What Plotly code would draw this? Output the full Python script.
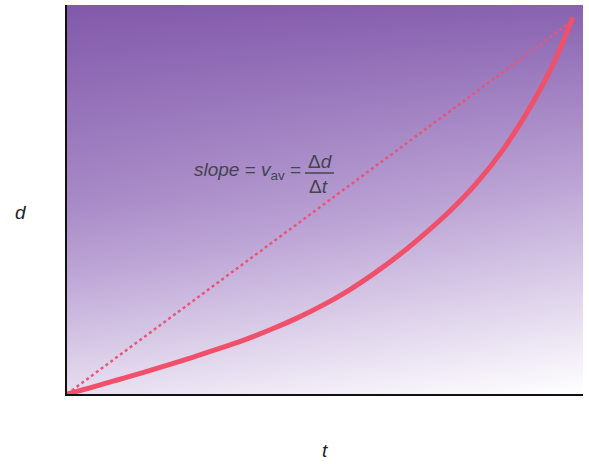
import plotly.graph_objects as go

# Data
curve_t = [0.0, 0.05, 0.1, 0.15, 0.2, 0.25, 0.3, 0.35, 0.4, 0.45, 0.5, 0.55, 0.6, 0.65,
           0.7, 0.75, 0.8, 0.85, 0.9, 0.95, 0.99]
curve_d = [0.0, 0.018, 0.037, 0.056, 0.076, 0.097, 0.119, 0.142, 0.168, 0.197, 0.23, 0.268,
           0.312, 0.361, 0.416, 0.476, 0.545, 0.628, 0.73, 0.852, 0.978]
secant_t = [0.0, 0.985]
secant_d = [0.0, 0.965]

# background gradient grid (relative shade, 0 = deep purple, 1 = white)
bg_x = [0.0, 1.01]
bg_y = [0.0, 0.5, 1.01]
bg_z = [[0.82, 1.0], [0.32, 0.55], [0.0, 0.06]]

W, H = 589, 464
L, R, T, B = 67, 6, 5, 70
pw, ph = W - L - R, H - T - B

def px(x):
    return (x - L) / pw

def py(y):
    return (H - B - y) / ph

fig = go.Figure()
fig.add_trace(go.Heatmap(x=bg_x, y=bg_y, z=bg_z, zsmooth="best", showscale=False,
                         colorscale=[[0, "#8259ab"], [0.5, "#bca4d5"], [1, "#ffffff"]],
                         zmin=0, zmax=1, hoverinfo="skip"))
fig.add_trace(go.Scatter(x=secant_t, y=secant_d, mode="lines",
                         line=dict(color="#e8557a", width=2.5, dash="dot"), hoverinfo="skip"))
fig.add_trace(go.Scatter(x=curve_t, y=curve_d, mode="lines", line_shape="spline",
                         line=dict(color="#f0506a", width=5, smoothing=1.0), hoverinfo="skip"))

font = dict(family="Liberation Sans, Arial, sans-serif", size=19, color="#44444f")
fig.add_annotation(xref="paper", yref="paper", x=px(303), y=py(171), xanchor="right", yanchor="middle",
                   text="<i>slope</i> = <i>v</i><sub>av</sub> =", showarrow=False, font=font)
fig.add_annotation(xref="paper", yref="paper", x=px(320), y=py(161), xanchor="center", yanchor="middle",
                   text="Δ<i>d</i>", showarrow=False, font=font)
fig.add_annotation(xref="paper", yref="paper", x=px(318), y=py(186), xanchor="center", yanchor="middle",
                   text="Δ<i>t</i>", showarrow=False, font=font)
fig.add_shape(type="line", xref="paper", yref="paper", x0=px(305), x1=px(334), y0=py(173), y1=py(173),
              line=dict(color="#44444f", width=1.5))

labfont = dict(family="Liberation Sans, Arial, sans-serif", size=19, color="#222222")
fig.add_annotation(xref="paper", yref="paper", x=px(21), y=py(212), text="<i>d</i>", showarrow=False,
                   font=labfont, xanchor="center", yanchor="middle")
fig.add_annotation(xref="paper", yref="paper", x=px(325), y=py(450), text="<i>t</i>", showarrow=False,
                   font=labfont, xanchor="center", yanchor="middle")

fig.update_xaxes(range=[0, 1.01], showgrid=False, zeroline=False, showticklabels=False, ticks="",
                 showline=True, linecolor="#111111", linewidth=2)
fig.update_yaxes(range=[0, 1.01], showgrid=False, zeroline=False, showticklabels=False, ticks="",
                 showline=True, linecolor="#111111", linewidth=2)
fig.update_layout(width=W, height=H, margin=dict(l=L, r=R, t=T, b=B), showlegend=False,
                  paper_bgcolor="white", plot_bgcolor="white")
fig.write_html("out.html", config={"displayModeBar": False},
               post_script="document.body.style.margin='0';document.body.style.padding='0';")
